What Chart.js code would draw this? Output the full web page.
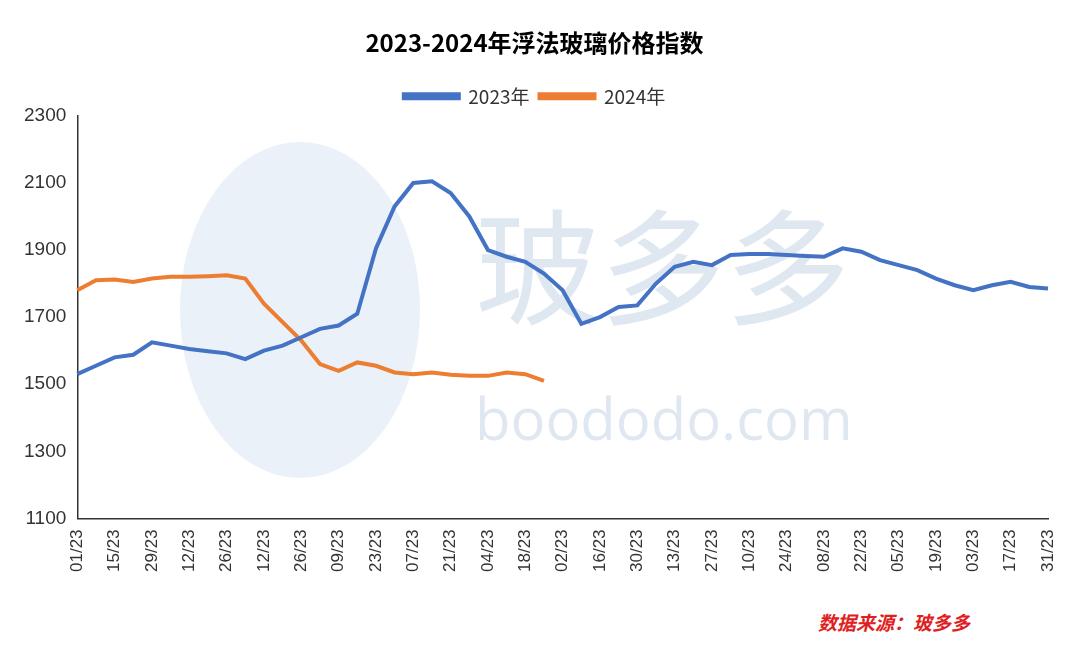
<!DOCTYPE html>
<html><head><meta charset="utf-8">
<script src="https://cdn.jsdelivr.net/npm/chart.js@4"></script>
<style>
body{margin:0;background:#fff;font-family:"Noto Sans CJK SC",sans-serif;}
#wrap{position:relative;width:1080px;height:647px;}
.wm{position:absolute;color:rgba(150,175,210,0.3);pointer-events:none;}
</style></head><body>
<div id="wrap">
<div class="wm" style="left:475px;top:170px;font-size:125px;font-family:'Noto Sans CJK SC';">玻多多</div>
<div class="wm" style="left:475px;top:378px;font-size:58px;font-family:'Open Sans';">boododo.com</div>
<div class="wm" style="left:180px;top:142px;width:240px;height:336px;border-radius:50%;background:rgba(170,200,230,0.25);"></div>
<div style="position:absolute;left:818px;top:608px;color:#e02020;font-style:italic;font-size:19px;font-weight:bold;font-family:'Noto Sans CJK SC';">数据来源：玻多多</div>
<canvas id="c" width="1080" height="647" style="position:absolute;left:0;top:0"></canvas>
</div>
<script>
const tickLabels=["01/23","15/23","29/23","12/23","26/23","12/23","26/23","09/23","23/23","07/23","21/23","04/23","18/23","02/23","16/23","30/23","13/23","27/23","10/23","24/23","08/23","22/23","05/23","19/23","03/23","17/23","31/23"];
const weeks=Array.from({length:53},(_,i)=>"W"+(i+1));
const s2023=[1530,1555,1580,1588,1625,1615,1605,1598,1592,1575,1600,1615,1640,1665,1675,1710,1905,2030,2100,2105,2070,2000,1900,1880,1865,1830,1780,1680,1700,1730,1735,1800,1850,1865,1855,1885,1888,1888,1885,1882,1880,1905,1895,1870,1855,1840,1815,1795,1780,1795,1805,1790,1785];
const s2024=[1780,1810,1812,1805,1815,1820,1820,1822,1825,1815,1740,1685,1630,1560,1540,1565,1555,1535,1530,1535,1528,1525,1525,1535,1530,1510];
new Chart(document.getElementById('c'),{type:'line',
data:{labels:weeks,datasets:[
{label:'2023年',data:s2023,borderColor:'#4472C4',backgroundColor:'#4472C4',borderWidth:4,pointRadius:0,tension:0},
{label:'2024年',data:s2024,borderColor:'#ED7D31',backgroundColor:'#ED7D31',borderWidth:4,pointRadius:0,tension:0}]},
options:{responsive:false,animation:false,
layout:{padding:{left:21,right:32,top:28,bottom:72}},
plugins:{title:{display:true,text:'2023-2024年浮法玻璃价格指数',font:{size:24,weight:'bold',family:'Noto Sans CJK SC'},color:'#000',padding:{top:0,bottom:20}},
legend:{labels:{boxWidth:55,boxHeight:4,font:{size:19,family:'Noto Sans CJK SC'},color:'#333'}},tooltip:{enabled:false}},
scales:{x:{grid:{display:false},border:{color:'#333',width:1.5},ticks:{autoSkip:false,maxRotation:90,minRotation:90,font:{size:17},color:'#333',callback:(v,i)=>i%2===0?tickLabels[i/2]:''}},
y:{min:1100,max:2300,grid:{display:false},border:{color:'#333',width:1.5},ticks:{stepSize:200,font:{size:19},color:'#333',callback:v=>String(v)}}}}});
</script></body></html>
